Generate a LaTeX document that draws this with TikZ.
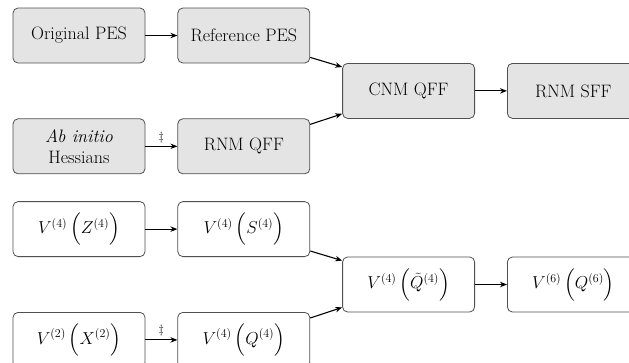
\documentclass[tikz,border=0pt]{standalone}
\usepackage{amsmath}
\usepackage{amssymb}
\usepackage{tikz}
\usetikzlibrary{positioning,calc,arrows.meta}
\definecolor{boxgray}{HTML}{E4E4E4}
\definecolor{edgegray}{HTML}{505050}
\tikzstyle{stagebox} = [draw=edgegray, line width=0.8pt, rectangle, rounded corners=5pt,
    minimum width=132pt, minimum height=55pt, inner sep=2pt, align=center]
\tikzstyle{graybox} = [stagebox, fill=boxgray]
\tikzstyle{whitebox} = [stagebox, fill=white]
\tikzstyle{flow} = [-{Stealth[length=7pt,width=5.5pt]}, line width=1.1pt, black]

\begin{document}
\begin{tikzpicture}[font=\fontsize{18}{21}\selectfont]
    \clip (0,0) rectangle (629pt,-362pt);
    % methods
    \node [graybox] (orig) at (79pt,-35.5pt) {Original PES};
    \node [graybox, right=32pt of orig] (ref) {Reference PES};
    \node [graybox, below=55pt of orig] (abinit) {\textit{Ab initio}\\Hessians};
    \node [graybox, right=32pt of abinit] (rnmqff) {RNM QFF};
    \coordinate (topmid) at ($(ref.east)!0.5!(rnmqff.east)$);
    \node [graybox, right=32pt of topmid] (cnmqff) {CNM QFF};
    \node [graybox, right=32pt of cnmqff] (rnmsff) {RNM SFF};
    % force fields
    \node [whitebox, below=27pt of abinit] (zfour) {$V^{(4)}\,\Bigl(Z^{(4)}\Bigr)$};
    \node [whitebox, right=32pt of zfour] (sfour) {$V^{(4)}\,\Bigl(S^{(4)}\Bigr)$};
    \node [whitebox, below=55pt of zfour] (xtwo) {$V^{(2)}\,\Bigl(X^{(2)}\Bigr)$};
    \node [whitebox, right=32pt of xtwo] (qfour) {$V^{(4)}\,\Bigl(Q^{(4)}\Bigr)$};
    \coordinate (botmid) at ($(sfour.east)!0.5!(qfour.east)$);
    \node [whitebox, right=32pt of botmid] (qtfour) {$V^{(4)}\,\Bigl(\tilde{Q}^{(4)}\Bigr)$};
    \node [whitebox, right=32pt of qtfour] (qsix) {$V^{(6)}\,\Bigl(Q^{(6)}\Bigr)$};

    \draw [flow] (orig) -- (ref);
    \draw [flow] (abinit) -- node[above, font=\fontsize{13}{15}\selectfont] {$\ddagger$} (rnmqff);
    \draw [flow] ([yshift=6pt]ref.south east) -- ([yshift=-4pt]cnmqff.north west);
    \draw [flow] ([yshift=-6pt]rnmqff.north east) -- ([yshift=5pt]cnmqff.south west);
    \draw [flow] (cnmqff) -- (rnmsff);

    \draw [flow] (zfour) -- (sfour);
    \draw [flow] (xtwo) -- node[above, font=\fontsize{13}{15}\selectfont] {$\ddagger$} (qfour);
    \draw [flow] ([yshift=6pt]sfour.south east) -- ([yshift=-4pt]qtfour.north west);
    \draw [flow] ([yshift=-6pt]qfour.north east) -- ([yshift=5pt]qtfour.south west);
    \draw [flow] (qtfour) -- (qsix);
\end{tikzpicture}
\end{document}
